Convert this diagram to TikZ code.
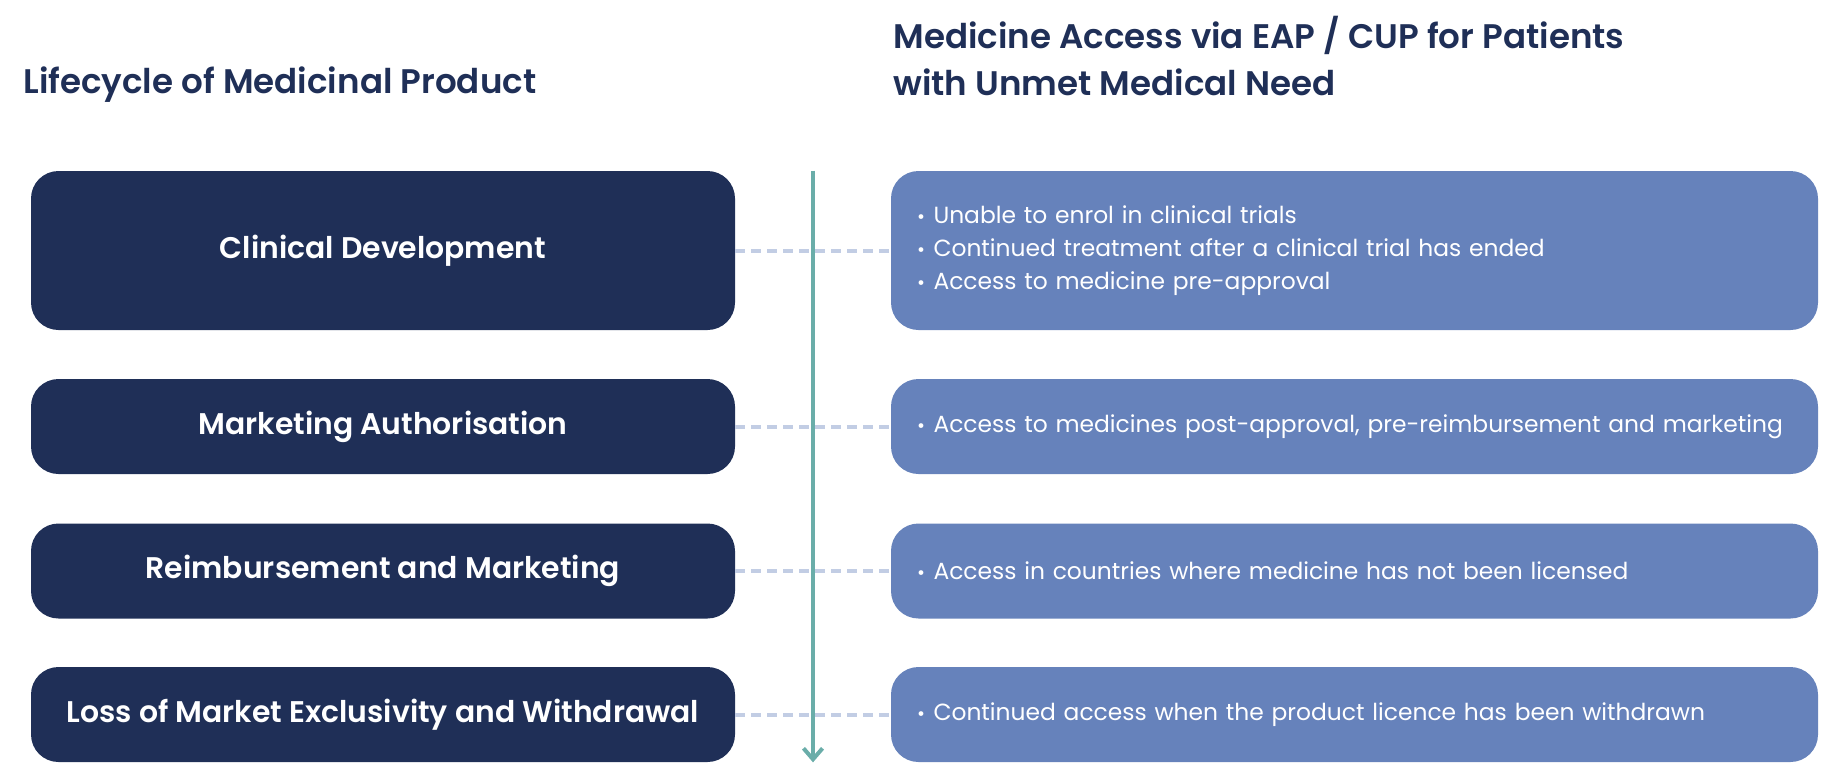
\documentclass[tikz,border=0pt]{standalone}
\usepackage{fontspec}
\setmainfont{Poppins}[BoldFont={Poppins SemiBold}]
\usepackage{xcolor}
\usetikzlibrary{positioning,calc,arrows.meta}

\definecolor{navy}{HTML}{1F2F57}
\definecolor{periwinkle}{HTML}{6682BB}
\definecolor{tealline}{HTML}{6AADA9}
\definecolor{dashgray}{HTML}{C2CDE4}

\newcommand{\headfont}{\fontsize{19.4}{26.2}\selectfont\bfseries}
\newcommand{\stagefont}{\fontsize{17}{20}\selectfont\bfseries}
\newcommand{\accfont}{\fontsize{13.3}{18.8}\selectfont}
\newcommand{\bul}{\hspace*{0.15cm}\makebox[0.33cm][l]{\fontsize{11}{11}\selectfont\textbullet}}

\begin{document}
\begin{tikzpicture}[
  stage/.style={fill=navy, rounded corners=0.55cm, minimum width=14.08cm, minimum height=1.9cm, text=white, font=\stagefont, align=center},
  access/.style={fill=periwinkle, rounded corners=0.55cm, text width=17.8cm, inner xsep=0.37cm, minimum height=1.9cm, align=left, text=white, font=\accfont},
  heading/.style={text=navy, font=\headfont, inner sep=0pt, anchor=base west, align=left},
  link/.style={dashgray, line width=0.08cm, dash pattern=on 0.2cm off 0.12cm},
  flow/.style={-{Straight Barb[length=0.22cm,width=0.38cm]}, tealline, line width=0.08cm}
]
\useasboundingbox (0,0) rectangle (36.66,-15.26);
% headings
\node[heading] (lifehead) at (0.46,-1.86) {Lifecycle of Medicinal Product};
\node[heading] (accesshead) at (17.86,-1.90) {Medicine Access via EAP / CUP for Patients\\with Unmet Medical Need};
% lifecycle stages
\node[stage, minimum height=3.18cm] (clin) at (7.66,-5.01) {Clinical Development};
\node[stage] (auth) at (7.66,-8.53) {Marketing Authorisation};
\node[stage] (reimb) at (7.66,-11.42) {Reimbursement and Marketing};
\node[stage] (loss) at (7.66,-14.29) {Loss of Market Exclusivity and Withdrawal};
% access routes
\node[access, minimum height=3.18cm] (acc1) at (27.09,-5.01) {\bul Unable to enrol in clinical trials\\
  \bul Continued treatment after a clinical trial has ended\\
  \bul Access to medicine pre-approval};
\node[access] (acc2) at (27.09,-8.53) {\bul Access to medicines post-approval, pre-reimbursement and marketing};
\node[access] (acc3) at (27.09,-11.42) {\bul Access in countries where medicine has not been licensed};
\node[access] (acc4) at (27.09,-14.29) {\bul Continued access when the product licence has been withdrawn};
% dashed links
\draw[link] (clin.east) -- (acc1.west);
\draw[link] (auth.east) -- (acc2.west);
\draw[link] (reimb.east) -- (acc3.west);
\draw[link] (loss.east) -- (acc4.west);
% time arrow
\coordinate (ftop) at ($(clin.north east)!0.5!(acc1.north west)$);
\coordinate (fbot) at ($(loss.south east)!0.5!(acc4.south west)$);
\draw[flow] (ftop) -- (fbot);
\end{tikzpicture}
\end{document}
